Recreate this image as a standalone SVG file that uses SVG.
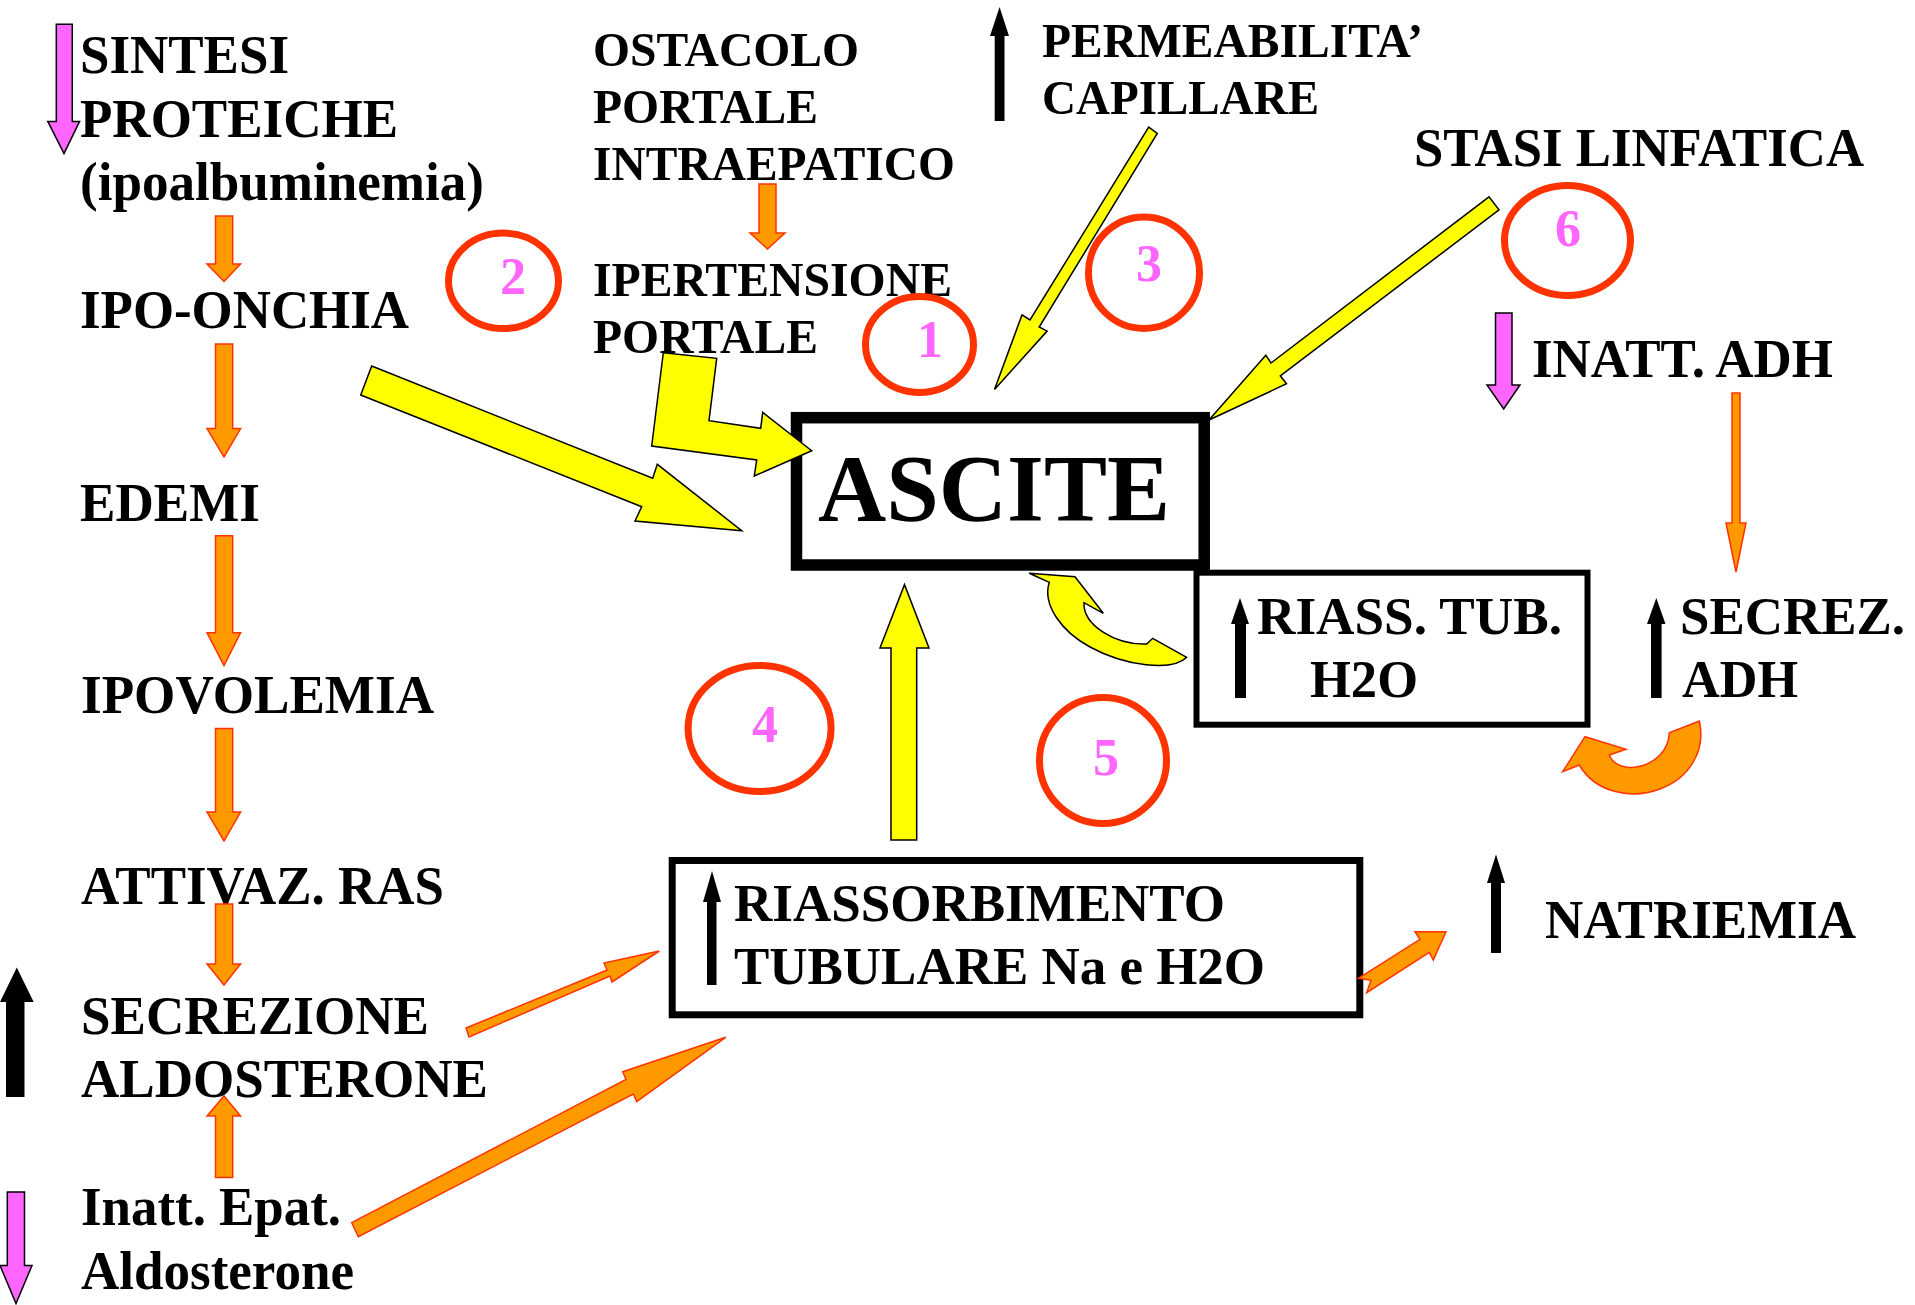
<svg xmlns="http://www.w3.org/2000/svg" width="1915" height="1305" viewBox="0 0 1915 1305">
<style>
.t{font-family:"Liberation Serif","Times New Roman",serif;font-weight:bold;fill:#000}
.l{font-size:54px}
.m{font-size:49px}
.yel{fill:#FFFF00;stroke:#000;stroke-width:1.5;stroke-linejoin:miter}
.org{fill:#FF9900;stroke:#FF3300;stroke-width:1.5;stroke-linejoin:miter}
.pink{fill:#FF66FF;stroke:#000;stroke-width:1.5}
.blk{fill:#000}
.circ{fill:none;stroke:#FF3300;stroke-width:7}
.num{font-family:"Liberation Serif","Times New Roman",serif;font-weight:bold;font-size:52px;fill:#FF66FF;text-anchor:middle}
.box{fill:none;stroke:#000}
</style>
<rect width="1915" height="1305" fill="#fff"/>

<g id="sintesi">
<polygon class="pink" points="56.3,24.3 72.3,24.3 72.3,121.4 79.6,121.4 64,153.6 47.8,121.4 56.3,121.4"/>
<text class="t l" x="80" y="73" textLength="209" lengthAdjust="spacingAndGlyphs">SINTESI</text>
<text class="t l" x="80" y="137" textLength="318" lengthAdjust="spacingAndGlyphs">PROTEICHE</text>
<text class="t l" x="80" y="200" textLength="404" lengthAdjust="spacingAndGlyphs">(ipoalbuminemia)</text>
</g>
<g id="ipoonchia"><text class="t l" x="80" y="328" textLength="329" lengthAdjust="spacingAndGlyphs">IPO-ONCHIA</text></g>
<g id="edemi"><text class="t l" x="80" y="521" textLength="180" lengthAdjust="spacingAndGlyphs">EDEMI</text></g>
<g id="ipovolemia"><text class="t l" x="81" y="713" textLength="353" lengthAdjust="spacingAndGlyphs">IPOVOLEMIA</text></g>
<g id="ras"><text class="t l" x="81" y="904" textLength="363" lengthAdjust="spacingAndGlyphs">ATTIVAZ. RAS</text></g>
<g id="aldosterone">
<polygon class="blk" points="6,1097 24.5,1097 24.5,1002 33.7,1002 16.8,967.6 0,1002 6,1002"/>
<text class="t l" x="81" y="1034" textLength="348" lengthAdjust="spacingAndGlyphs">SECREZIONE</text>
<text class="t l" x="81" y="1097" textLength="407" lengthAdjust="spacingAndGlyphs">ALDOSTERONE</text>
</g>
<g id="inatt-epat">
<polygon class="pink" points="7.3,1192 24.5,1192 24.5,1265.5 32,1265.5 16,1303.5 0,1265.5 7.3,1265.5"/>
<text class="t l" x="81" y="1225" textLength="260" lengthAdjust="spacingAndGlyphs">Inatt. Epat.</text>
<text class="t l" x="81" y="1289" textLength="273" lengthAdjust="spacingAndGlyphs">Aldosterone</text>
</g>

<g id="ostacolo">
<text class="t m" x="593" y="66" textLength="266" lengthAdjust="spacingAndGlyphs">OSTACOLO</text>
<text class="t m" x="593" y="123" textLength="225" lengthAdjust="spacingAndGlyphs">PORTALE</text>
<text class="t m" x="593" y="180" textLength="362" lengthAdjust="spacingAndGlyphs">INTRAEPATICO</text>
</g>
<g id="ipertensione">
<text class="t m" x="593" y="296" textLength="359" lengthAdjust="spacingAndGlyphs">IPERTENSIONE</text>
<text class="t m" x="593" y="353" textLength="225" lengthAdjust="spacingAndGlyphs">PORTALE</text>
</g>
<g id="permeabilita">
<polygon class="blk" points="994.7,121 1004.5,121 1004.5,36 1009,36 999.6,7 990,36 994.7,36"/>
<text class="t m" x="1042" y="57" textLength="381" lengthAdjust="spacingAndGlyphs">PERMEABILITA’</text>
<text class="t m" x="1042" y="114" textLength="277" lengthAdjust="spacingAndGlyphs">CAPILLARE</text>
</g>
<g id="stasi"><text class="t l" x="1414" y="166" textLength="450" lengthAdjust="spacingAndGlyphs">STASI LINFATICA</text></g>
<g id="inatt-adh">
<polygon class="pink" points="1495.5,313 1512,313 1512,385 1520,385 1503.7,409 1487,385 1495.5,385"/>
<text class="t l" x="1532" y="377" textLength="301" lengthAdjust="spacingAndGlyphs">INATT. ADH</text>
</g>
<g id="secrez-adh">
<polygon class="blk" points="1651,698 1661.6,698 1661.6,624 1665.5,624 1656.3,598 1647,624 1651,624"/>
<text class="t" font-size="52" x="1680" y="634" textLength="225" lengthAdjust="spacingAndGlyphs">SECREZ.</text>
<text class="t" font-size="52" x="1682" y="697" textLength="116" lengthAdjust="spacingAndGlyphs">ADH</text>
</g>
<g id="natriemia">
<polygon class="blk" points="1491,953 1501,953 1501,883 1505,883 1496,854.5 1487,883 1491,883"/>
<text class="t l" x="1545" y="938" textLength="311" lengthAdjust="spacingAndGlyphs">NATRIEMIA</text>
</g>

<g id="ascite">
<rect class="box" x="796.5" y="417.7" width="407.7" height="147.3" stroke-width="11.5"/>
<text class="t" font-size="96" x="818" y="521" textLength="352" lengthAdjust="spacingAndGlyphs">ASCITE</text>
</g>
<g id="riass-tub">
<rect class="box" x="1196.5" y="572.7" width="391" height="152" stroke-width="6"/>
<polygon class="blk" points="1235,698 1246,698 1246,624 1249,624 1240,598 1231,624 1235,624"/>
<text class="t" font-size="52" x="1257" y="634" textLength="305" lengthAdjust="spacingAndGlyphs">RIASS. TUB.</text>
<text class="t" font-size="52" x="1310" y="697" textLength="108" lengthAdjust="spacingAndGlyphs">H2O</text>
</g>
<g id="riassorbimento">
<rect class="box" x="672.2" y="860.5" width="687.6" height="154.3" stroke-width="7"/>
<polygon class="blk" points="707,985 716.5,985 716.5,902 721,902 712,871 703,902 707,902"/>
<text class="t" font-size="52" x="734" y="921" textLength="491" lengthAdjust="spacingAndGlyphs">RIASSORBIMENTO</text>
<text class="t" font-size="52" x="734" y="984" textLength="531" lengthAdjust="spacingAndGlyphs">TUBULARE Na e H2O</text>
</g>

<g id="c1"><ellipse class="circ" cx="919.5" cy="344.5" rx="54" ry="48"/><text class="num" x="930" y="357">1</text></g>
<g id="c2"><ellipse class="circ" cx="503.5" cy="280.8" rx="55" ry="47.7"/><text class="num" x="513" y="293.5">2</text></g>
<g id="c3"><ellipse class="circ" cx="1144" cy="272.7" rx="55.5" ry="55.8"/><text class="num" x="1149" y="281">3</text></g>
<g id="c4"><ellipse class="circ" cx="759.6" cy="728.5" rx="71.5" ry="63"/><text class="num" x="765" y="742">4</text></g>
<g id="c5"><ellipse class="circ" cx="1103" cy="760.5" rx="63.5" ry="63"/><text class="num" x="1106" y="775">5</text></g>
<g id="c6"><ellipse class="circ" cx="1567.5" cy="240.5" rx="63" ry="55"/><text class="num" x="1568" y="246">6</text></g>

<g id="connectors">
<polygon class="org" points="215.5,216 232.7,216 232.7,264 240.6,264 224,281.4 207,264 215.5,264"/>
<polygon class="org" points="215.5,344 232.7,344 232.7,428.6 240.6,428.6 224,457 207,428.6 215.5,428.6"/>
<polygon class="org" points="215.5,535.7 232.7,535.7 232.7,632.7 240.6,632.7 224,665.5 207,632.7 215.5,632.7"/>
<polygon class="org" points="215.5,728.6 232.7,728.6 232.7,812 240.6,812 224,841 207,812 215.5,812"/>
<polygon class="org" points="215.5,904 232.7,904 232.7,964 240.6,964 224,985 207,964 215.5,964"/>
<polygon class="org" points="215.5,1177.6 232.7,1177.6 232.7,1116 240.6,1116 224,1096 207,1116 215.5,1116"/>
<polygon class="org" points="759,184 776,184 776,233 785,233 767.5,249 750,233 759,233"/>
<polygon class="org" points="1732,393 1740,393 1740,523 1746,523 1736,572 1726,523 1732,523"/>
<polygon class="org" points="466,1028 607,970 604,963 659.3,951 612,982 610,976 469,1037"/>
<polygon class="org" points="351.7,1222.7 626,1079.3 622.7,1071.7 725.7,1037.3 636.7,1101.7 633.3,1094 358.3,1236.7"/>
<polygon class="org" points="1358.3,978.3 1420,939.3 1415,931.7 1446,931.7 1433.3,960 1429.3,952.3 1366.7,992.7 1371,980.3"/>
<path class="org" d="M1562.7,771.7 L1585,736.7 L1626,749.3 L1609.3,755 C1618,778 1668,768 1669.3,732.7 L1699.3,721 C1706,750 1690,778 1660,789 C1630,800 1595,792 1579.3,765 Z"/>
<polygon class="yel" points="371.7,366 652.7,478.3 657.3,464.3 741.7,530.7 635,521 641.7,506.7 360.7,395"/>
<polygon class="yel" points="663.3,352.7 716.7,358.3 709,420.7 760.7,428.3 762.7,412.3 811.7,450.7 754.3,476 756.7,460 651.7,446"/>
<polygon class="yel" points="1148.7,127.2 1157.3,133.4 1039.2,327 1047.1,331.1 994.5,389.6 1022,314.9 1030,320"/>
<polygon class="yel" points="1489,196.8 1499,209.9 1280.3,375.8 1286.5,383.8 1209,420 1265.8,355.2 1271,363"/>
<polygon class="yel" points="891,840 916.7,840 916.7,648 929,648 904.5,584.7 880,648 891,648"/>
<path class="yel" d="M1029.3,573.3 L1075,576.7 L1103.3,613.3 L1084,602.7 C1083,625 1115,645 1146.7,644 L1152.7,638.3 L1186.7,657.3 C1172,672 1125,666 1090,647 C1062,632 1042,605 1049.3,582.3 Z"/>
</g>
</svg>
